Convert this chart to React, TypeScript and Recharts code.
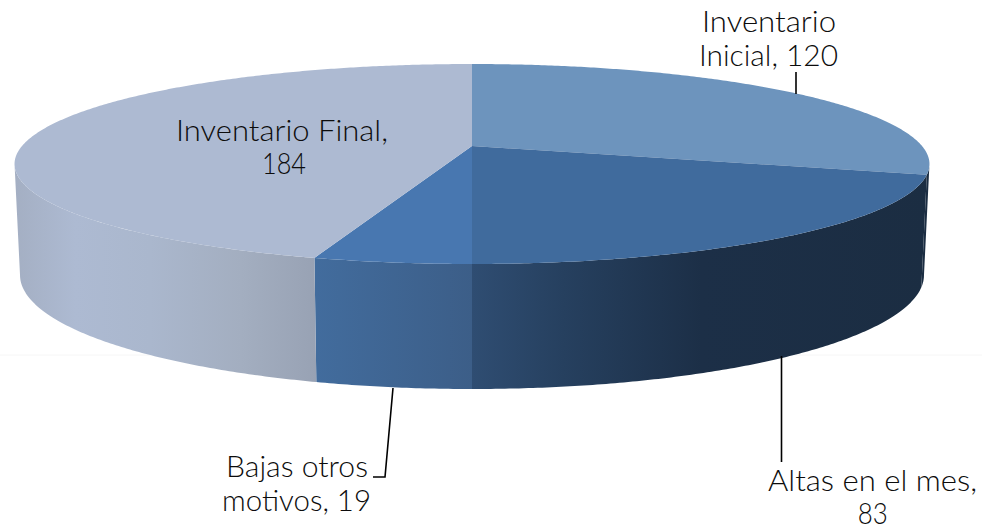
import React from "react";
import { PieChart, Pie } from "recharts";

const categories = ["Inventario Inicial", "Altas en el mes", "Bajas otros motivos", "Inventario Final"];
const values = [120, 83, 19, 184];
const labelLines = [
  ["Inventario", "Inicial, 120"],
  ["Altas en el mes,", "83"],
  ["Bajas otros", "motivos, 19"],
  ["Inventario Final,", "184"],
];
const topColors = ["#6d94bd", "#406b9d", "#4877b0", "#adbad2"];
const sideStops: [number, string][][] = [
  [[0, "#1b2d42"], [0.95, "#1b2d42"], [1, "#7f99b5"]],
  [[0, "#2f4d72"], [0.2, "#26405f"], [0.5, "#1c2f47"], [1, "#1b2d42"]],
  [[0, "#426c9d"], [1, "#3c5e88"]],
  [[0, "#a4afc3"], [0.2, "#adbad2"], [0.45, "#aab7cd"], [0.75, "#a3aec0"], [1, "#98a2b4"]],
];
const sideSpan: [number, number][] = [[923, 930], [472, 930], [316, 472], [15, 316]];

const labelPlace = [
  { lines: [{ x: 769, y: 32, w: 134 }, { x: 768.5, y: 66, w: 139 }], leader: [[796, 72], [796, 94]] },
  { lines: [{ x: 872.5, y: 491, w: 209 }, { x: 872.7, y: 524, w: 30 }], leader: [[781.5, 356], [781.5, 462]] },
  { lines: [{ x: 297, y: 477, w: 142 }, { x: 296.5, y: 510.5, w: 149 }], leader: [[393, 388], [385, 477], [373, 477]] },
  { lines: [{ x: 282, y: 141, w: 212 }, { x: 284, y: 174, w: 44 }], leader: [] as number[][] },
];

const table = categories.map((name, idx) => ({ name, value: values[idx], idx }));

const FONT = "Lato, 'Open Sans', sans-serif";
const W = 982;
const H = 530;
const CX = 472;
const APEX_Y = 146;
const RADIUS = 450;
const K = -0.18;
const Y_RATIO = 96.76 / 450;
const BOTTOM_X = 444.6 / 450;
const BOTTOM_Y = 110.3 / 450;
const DROP = 108.5;
const FRONT_FROM = 100.4;
const FRONT_TO = 259.6;

function project(theta: number, cx: number, cy: number, r: number, bottom: boolean) {
  const rad = (theta * Math.PI) / 180;
  const u = Math.sin(rad);
  const v = -Math.cos(rad);
  const w = 1 + K * v;
  const sx = bottom ? BOTTOM_X : 1;
  const sy = bottom ? BOTTOM_Y : Y_RATIO;
  const y0 = bottom ? cy + DROP : cy;
  return [cx + (r * sx * u) / w, y0 + (r * sy * v) / w];
}

function arc(a: number, b: number, cx: number, cy: number, r: number, bottom: boolean) {
  const pts: number[][] = [];
  const n = Math.max(2, Math.ceil(Math.abs(b - a) * 2));
  for (let i = 0; i <= n; i++) pts.push(project(a + ((b - a) * i) / n, cx, cy, r, bottom));
  return pts;
}

const toPath = (pts: number[][]) =>
  "M" + pts.map((p) => `${p[0].toFixed(2)},${p[1].toFixed(2)}`).join("L") + "Z";

function Slice3D(props: any) {
  const { cx, cy, outerRadius, startAngle, endAngle, idx } = props;
  const t1 = 90 - startAngle;
  const t2 = 90 - endAngle;
  const top = [[cx, cy], ...arc(t1, t2, cx, cy, outerRadius, false)];
  const a = Math.max(t1, FRONT_FROM);
  const b = Math.min(t2, FRONT_TO);
  const gid = `side-${idx}`;
  return (
    <g>
      {b > a && (
        <>
          <defs>
            <linearGradient
              id={gid}
              gradientUnits="userSpaceOnUse"
              x1={sideSpan[idx][0]}
              x2={sideSpan[idx][1]}
              y1={0}
              y2={0}
            >
              {sideStops[idx].map(([o, c], i) => (
                <stop key={i} offset={o} stopColor={c} />
              ))}
            </linearGradient>
          </defs>
          <path
            d={toPath([
              ...arc(a, b, cx, cy, outerRadius, false),
              ...arc(b, a, cx, cy, outerRadius, true),
            ])}
            fill={`url(#${gid})`}
          />
        </>
      )}
      <path d={toPath(top)} fill={topColors[idx]} />
    </g>
  );
}

function SliceLabel(props: any) {
  const idx = props.idx ?? props.payload?.idx;
  const place = labelPlace[idx];
  return (
    <g>
      {place.leader.length > 0 && (
        <polyline
          points={place.leader.map((p) => p.join(",")).join(" ")}
          fill="none"
          stroke="#000"
          strokeWidth={1.6}
        />
      )}
      {labelLines[idx].map((line, i) => (
        <text
          key={i}
          x={place.lines[i].x}
          y={place.lines[i].y}
          textAnchor="middle"
          textLength={place.lines[i].w}
          lengthAdjust="spacingAndGlyphs"
          fontFamily={FONT}
          fontSize={28.5}
          fontWeight={300}
          fill="#0c0c0c"
        >
          {line}
        </text>
      ))}
    </g>
  );
}

export default function App() {
  return (
    <div style={{ position: "absolute", left: 0, top: 0, width: W, height: H, background: "#fff" }}>
      <PieChart width={W} height={H} margin={{ top: 0, right: 0, bottom: 0, left: 0 }}>
        <line x1={0} x2={W} y1={355} y2={355} stroke="#f6f6f6" strokeWidth={1} />
        <Pie
          data={table}
          dataKey="value"
          nameKey="name"
          cx={CX}
          cy={APEX_Y}
          innerRadius={0}
          outerRadius={RADIUS}
          startAngle={90}
          endAngle={-270}
          stroke="none"
          shape={Slice3D}
          label={SliceLabel}
          labelLine={false}
          isAnimationActive={false}
        />
      </PieChart>
    </div>
  );
}
